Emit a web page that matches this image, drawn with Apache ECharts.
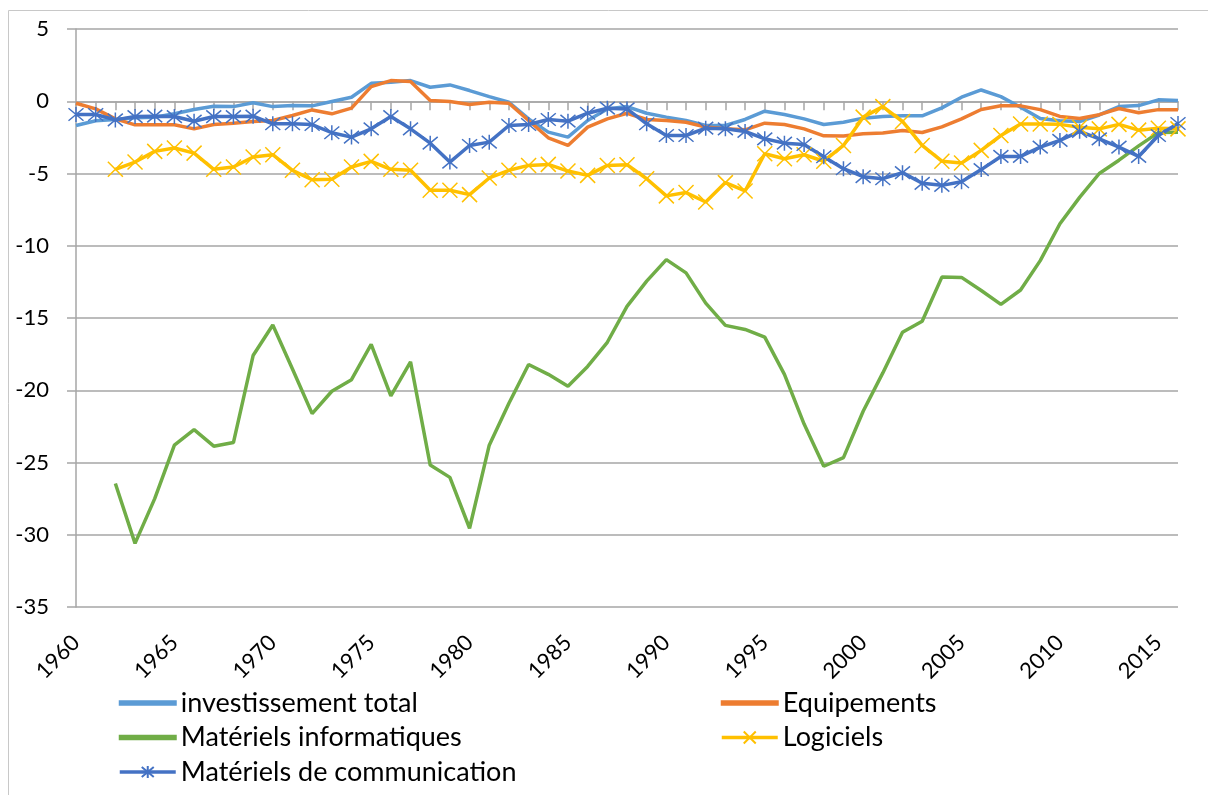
<!DOCTYPE html>
<html>
<head>
    <meta charset="utf-8">
    <title>Investissement - écarts</title>
    <script src="https://cdn.jsdelivr.net/npm/echarts@6/dist/echarts.min.js"></script>
    <style>
        body { margin: 0; background: #fff; }
    </style>
</head>
<body>
<div id="chart" style="width: 1208px; height: 795px;"></div>
<script>
    // années 1960 - 2016
    var years = [];
    for (var y = 1960; y <= 2016; y++) years.push(String(y));

    var total = [-1.68, -1.35, -1.26, -1.15, -1.1, -0.87, -0.57, -0.34, -0.37, -0.11,
        -0.37, -0.3, -0.32, -0.02, 0.28, 1.24, 1.31, 1.43, 0.97, 1.13,
        0.74, 0.32, -0.07, -1.22, -2.14, -2.48, -1.33, -0.53, -0.37, -0.83,
        -1.1, -1.33, -1.68, -1.68, -1.26, -0.69, -0.92, -1.22, -1.61, -1.45,
        -1.17, -1.06, -1.01, -1.01, -0.46, 0.28, 0.78, 0.32, -0.41, -1.2,
        -1.35, -1.4, -0.95, -0.37, -0.3, 0.1, 0.05];

    var equipements = [-0.14, -0.53, -1.22, -1.63, -1.63, -1.63, -1.91, -1.61, -1.52, -1.4,
        -1.33, -0.99, -0.6, -0.87, -0.48, 1.01, 1.43, 1.36, 0.05, -0.02,
        -0.23, -0.07, -0.14, -1.33, -2.53, -3.06, -1.79, -1.22, -0.83, -1.26,
        -1.33, -1.45, -1.79, -1.91, -1.98, -1.52, -1.61, -1.91, -2.39, -2.41,
        -2.25, -2.19, -2.03, -2.16, -1.77, -1.22, -0.57, -0.31, -0.32, -0.58,
        -1.05, -1.2, -0.93, -0.5, -0.8, -0.58, -0.59];

    var informatique = [null, null, -26.45, -30.6, -27.5, -23.8, -22.72, -23.87, -23.62, -17.6,
        -15.48, -18.53, -21.62, -20.07, -19.27, -16.83, -20.39, -18.04, -25.18, -26.03,
        -29.55, -23.8, -20.9, -18.22, -18.9, -19.72, -18.35, -16.68, -14.2, -12.45,
        -10.96, -11.88, -13.97, -15.51, -15.79, -16.32, -18.9, -22.34, -25.26, -24.66,
        -21.45, -18.8, -15.99, -15.22, -12.17, -12.19, -13.1, -14.06, -13.06, -11.03,
        -8.48, -6.65, -5.0, -4.08, -3.09, -2.17, -2.15];

    var logiciels = [null, null, -4.71, -4.21, -3.47, -3.24, -3.59, -4.71, -4.55, -3.86,
        -3.7, -4.78, -5.43, -5.4, -4.55, -4.16, -4.71, -4.78, -6.16, -6.16,
        -6.46, -5.31, -4.78, -4.44, -4.37, -4.83, -5.13, -4.44, -4.39, -5.36,
        -6.55, -6.32, -6.97, -5.63, -6.21, -3.63, -3.98, -3.7, -4.15, -3.06,
        -1.1, -0.37, -1.4, -3.06, -4.15, -4.27, -3.4, -2.37, -1.57, -1.57,
        -1.6, -1.8, -1.91, -1.6, -2.0, -1.87, -1.91];

    var communication = [-0.92, -0.92, -1.29, -1.06, -1.03, -1.06, -1.38, -1.06, -1.06, -1.03,
        -1.56, -1.56, -1.61, -2.18, -2.48, -1.91, -1.06, -1.91, -2.9, -4.21,
        -3.06, -2.83, -1.68, -1.61, -1.26, -1.38, -0.83, -0.48, -0.53, -1.56,
        -2.37, -2.37, -1.86, -1.91, -2.09, -2.6, -2.9, -2.99, -3.84, -4.67,
        -5.22, -5.36, -4.94, -5.68, -5.82, -5.57, -4.73, -3.82, -3.82, -3.17,
        -2.71, -2.08, -2.6, -3.17, -3.82, -2.37, -1.54];

    var font = 'Lato, "Liberation Sans", sans-serif';
    var gridColor = '#A6A6A6';

    // marqueurs dessinés en traits
    var starPath = 'path://M0,1L10,11M10,1L0,11M5,0L5,12';
    var crossPath = 'path://M0,0L10,10M10,0L0,10';
    var barIcon = 'path://M0,0L56,0L56,3.5L0,3.5Z';

    function lineSerie(name, data, color, symbol) {
        return {
            name: name,
            type: 'line',
            data: data,
            xAxisIndex: 0,
            symbol: symbol || 'none',
            symbolSize: 15,
            showSymbol: !!symbol,
            showAllSymbol: true,
            lineStyle: { width: 3.5, color: color },
            itemStyle: { color: color, borderColor: color, borderWidth: 1.5 },
            emphasis: { disabled: true },
            animation: false
        };
    }

    var legendBase = {
        orient: 'vertical',
        top: 688,
        padding: 0,
        itemWidth: 56,
        itemHeight: 15,
        itemGap: 4.5,
        selectedMode: false,
        lineStyle: { width: 3.5 },
        textStyle: { fontFamily: font, fontSize: 27, lineHeight: 30, color: '#000' }
    };

    var chart = echarts.init(document.getElementById('chart'));

    var option = {
        backgroundColor: '#fff',
        textStyle: { fontFamily: font },
        graphic: [{
            type: 'rect',
            shape: { x: 8.5, y: 10.5, width: 1260, height: 850 },
            style: { fill: null, stroke: '#C8C8C8', lineWidth: 1 },
            silent: true
        }],
        grid: { left: 76, top: 29, right: 30, bottom: 188, containLabel: false },
        legend: [
            Object.assign({}, legendBase, {
                left: 118,
                data: [
                    { name: 'investissement total', icon: barIcon },
                    { name: 'Matériels informatiques', icon: barIcon },
                    'Matériels de communication'
                ]
            }),
            Object.assign({}, legendBase, {
                left: 720,
                data: [
                    { name: 'Equipements', icon: barIcon },
                    'Logiciels'
                ]
            })
        ],
        xAxis: [{
            type: 'category',
            data: years,
            boundaryGap: false,
            axisLine: { onZero: true, lineStyle: { color: gridColor, width: 1.5 } },
            axisTick: { show: true, length: 9, interval: 0, lineStyle: { color: gridColor, width: 1.5 } },
            axisLabel: { show: false },
            splitLine: { show: false }
        }, {
            type: 'category',
            data: years,
            boundaryGap: false,
            position: 'bottom',
            axisLine: { show: false, onZero: false },
            axisTick: { show: false },
            axisLabel: {
                interval: 4,
                rotate: 45,
                margin: 32,
                fontFamily: font,
                fontSize: 22,
                color: '#000'
            },
            splitLine: { show: false }
        }],
        yAxis: {
            type: 'value',
            min: -35,
            max: 5,
            interval: 5,
            axisLine: { show: true, lineStyle: { color: gridColor, width: 1.5 } },
            axisTick: { show: true, length: 9, lineStyle: { color: gridColor, width: 1.5 } },
            axisLabel: { margin: 27, fontFamily: font, fontSize: 22, color: '#000' },
            splitLine: { show: true, lineStyle: { color: gridColor, width: 1.5 } }
        },
        series: [
            lineSerie('investissement total', total, '#5B9BD5'),
            lineSerie('Equipements', equipements, '#ED7D31'),
            lineSerie('Matériels informatiques', informatique, '#70AD47'),
            lineSerie('Logiciels', logiciels, '#FFC000', crossPath),
            lineSerie('Matériels de communication', communication, '#4472C4', starPath)
        ]
    };

    chart.setOption(option);
</script>
</body>
</html>
